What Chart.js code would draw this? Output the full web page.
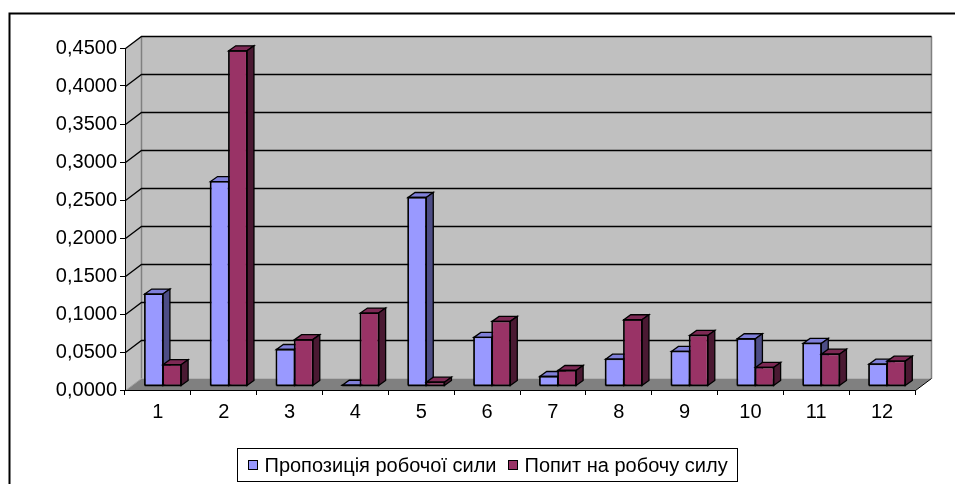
<!DOCTYPE html>
<html><head><meta charset="utf-8">
<script src="https://cdn.jsdelivr.net/npm/chart.js@4"></script>
<style>html,body{margin:0;padding:0;background:#fff;overflow:hidden}#w{width:955px;height:484px}</style>
</head><body><div id="w"><canvas id="c" width="955" height="484"></canvas></div>
<script>
const categories = ['1','2','3','4','5','6','7','8','9','10','11','12'];
const supply = [0.121, 0.269, 0.048, 0.001, 0.248, 0.064, 0.0125, 0.0353, 0.0455, 0.0622, 0.056, 0.0287];
const demand = [0.028, 0.441, 0.061, 0.096, 0.005, 0.085, 0.0204, 0.0872, 0.0665, 0.0244, 0.0419, 0.0327];
const seriesNames = ['Пропозиція робочої сили', 'Попит на робочу силу'];
const yTickLabels = ['0,0000','0,0500','0,1000','0,1500','0,2000','0,2500','0,3000','0,3500','0,4000','0,4500'];

const FONT = "'Liberation Sans', Arial, sans-serif";
const FS = 20;
const WALL = {dx: 16, dy: -12};
const SHIFT = {dx: 5, dy: -4};
const BDEP = {dx: 7, dy: -5};
const COLORS = [
  {front: '#9999FF', top: '#7F7FD9', side: '#4D4D86'},
  {front: '#993366', top: '#7D2954', side: '#4A1932'}
];

function poly(ctx, pts, fill, stroke, w) {
  ctx.beginPath();
  ctx.moveTo(pts[0][0], pts[0][1]);
  for (let i = 1; i < pts.length; i++) ctx.lineTo(pts[i][0], pts[i][1]);
  ctx.closePath();
  if (fill) { ctx.fillStyle = fill; ctx.fill(); }
  if (stroke) { ctx.strokeStyle = stroke; ctx.lineWidth = w || 1; ctx.stroke(); }
}
function line(ctx, pts, color, w) {
  ctx.beginPath();
  ctx.moveTo(pts[0][0], pts[0][1]);
  for (let i = 1; i < pts.length; i++) ctx.lineTo(pts[i][0], pts[i][1]);
  ctx.strokeStyle = color; ctx.lineWidth = w || 1; ctx.stroke();
}

const threeD = {
  id: 'threeD',
  beforeDraw(chart) {
    const ctx = chart.ctx, a = chart.chartArea, ys = chart.scales.y;
    ctx.save();
    ctx.fillStyle = '#fff';
    ctx.fillRect(0, 0, chart.width, chart.height);
    const L = a.left + 0.5, R = a.right + 0.5, T = a.top + 0.5, B = a.bottom + 0.5;
    const dx = WALL.dx, dy = WALL.dy;
    poly(ctx, [[L+dx, T+dy], [R+dx, T+dy], [R+dx, B+dy], [L+dx, B+dy]], '#C0C0C0');
    poly(ctx, [[L, T], [L+dx, T+dy], [L+dx, B+dy], [L, B]], '#C0C0C0');
    poly(ctx, [[L, B], [R, B], [R+dx, B+dy], [L+dx, B+dy]], '#808080');
    line(ctx, [[L+dx, T+dy], [L+dx, B+dy]], '#808080', 1.5);
    line(ctx, [[R+dx, T+dy], [R+dx, B+dy]], '#808080', 1.5);
    line(ctx, [[L, B], [L+dx, B+dy]], '#A0A0A0', 1);
    ys.ticks.forEach(t => {
      if (t.value === 0) return;
      const y = Math.round(ys.getPixelForValue(t.value)) + 0.5;
      line(ctx, [[L, y], [L+dx, y+dy], [R+dx, y+dy]], '#000', 1.3);
    });
    line(ctx, [[R, B], [R+dx, B+dy]], '#000', 1);
    ctx.restore();
  },
  beforeDatasetDraw() { return false; },
  afterDatasetsDraw(chart) {
    const ctx = chart.ctx;
    const metas = chart.data.datasets.map((d, i) => chart.getDatasetMeta(i));
    ctx.save();
    ctx.translate(SHIFT.dx, SHIFT.dy);
    ctx.lineJoin = 'miter';
    for (let i = 0; i < categories.length; i++) {
      metas.forEach((meta, di) => {
        const el = meta.data[i];
        if (!el) return;
        const c = COLORS[di];
        const l = el.x - el.width / 2, r = el.x + el.width / 2, t = el.y, b = el.base;
        el.draw(ctx);
        poly(ctx, [[l, t], [l+BDEP.dx, t+BDEP.dy], [r+BDEP.dx, t+BDEP.dy], [r, t]], c.top, '#000', 1.3);
        poly(ctx, [[r, t], [r+BDEP.dx, t+BDEP.dy], [r+BDEP.dx, b+BDEP.dy], [r, b]], c.side, '#000', 1.3);
        line(ctx, [[l, b], [l, t], [r, t], [r, b], [l, b]], '#000', 1.3);
      });
    }
    ctx.restore();
  },
  afterDraw(chart) {
    const ctx = chart.ctx;
    ctx.save();
    line(ctx, [[9.5, 484], [9.5, 13.5], [955, 13.5]], '#000', 2);
    ctx.font = FS + 'px ' + FONT;
    ctx.textBaseline = 'middle';
    ctx.textAlign = 'left';
    const w0 = ctx.measureText(seriesNames[0]).width;
    const w1 = ctx.measureText(seriesNames[1]).width;
    const sq = 10, g1 = 7, g2 = 11, padL = 10, padR = 10;
    const total = padL + sq + g1 + w0 + g2 + sq + g1 + w1 + padR;
    const cx = 487.5;
    const bx = Math.round(cx - total / 2) + 0.5, by = 448.5, bh = 33;
    ctx.strokeStyle = '#000'; ctx.lineWidth = 1;
    ctx.strokeRect(bx, by, Math.round(total), bh);
    let x = bx + padL;
    const ym = by + bh / 2;
    [0, 1].forEach(k => {
      ctx.fillStyle = COLORS[k].front;
      ctx.fillRect(Math.round(x), Math.round(ym - sq / 2), sq, sq);
      ctx.strokeStyle = '#000';
      ctx.strokeRect(Math.round(x) + 0.5, Math.round(ym - sq / 2) + 0.5, sq - 1, sq - 1);
      x += sq + g1;
      ctx.fillStyle = '#000';
      ctx.fillText(seriesNames[k], x, ym + 1);
      x += (k === 0 ? w0 : w1) + g2;
    });
    ctx.restore();
  }
};

new Chart(document.getElementById('c'), {
  type: 'bar',
  data: {
    labels: categories,
    datasets: [
      {label: seriesNames[0], data: supply, backgroundColor: COLORS[0].front, borderColor: '#000', borderWidth: 1, borderSkipped: false},
      {label: seriesNames[1], data: demand, backgroundColor: COLORS[1].front, borderColor: '#000', borderWidth: 1, borderSkipped: false}
    ]
  },
  options: {
    responsive: false,
    animation: false,
    devicePixelRatio: 1,
    layout: {padding: {left: 0, right: 40, top: 48, bottom: 0}},
    datasets: {bar: {categoryPercentage: 0.553, barPercentage: 1}},
    plugins: {legend: {display: false}, tooltip: {enabled: false}},
    scales: {
      x: {
        grid: {offset: true, drawOnChartArea: false, tickLength: 5, color: '#000'},
        border: {display: true, color: '#000', width: 1},
        ticks: {font: {family: FONT, size: FS}, color: '#000', padding: 5, maxRotation: 0},
        afterFit(s) { s.height = 94; }
      },
      y: {
        min: 0, max: 0.45,
        grid: {drawOnChartArea: false, tickLength: 5, color: '#000'},
        border: {display: true, color: '#000', width: 1},
        ticks: {stepSize: 0.05, font: {family: FONT, size: FS}, color: '#000', padding: 3,
          callback: (v) => yTickLabels[Math.round(v / 0.05)]},
        afterFit(s) { s.width = 125; }
      }
    }
  },
  plugins: [threeD]
});
</script>
</body></html>
